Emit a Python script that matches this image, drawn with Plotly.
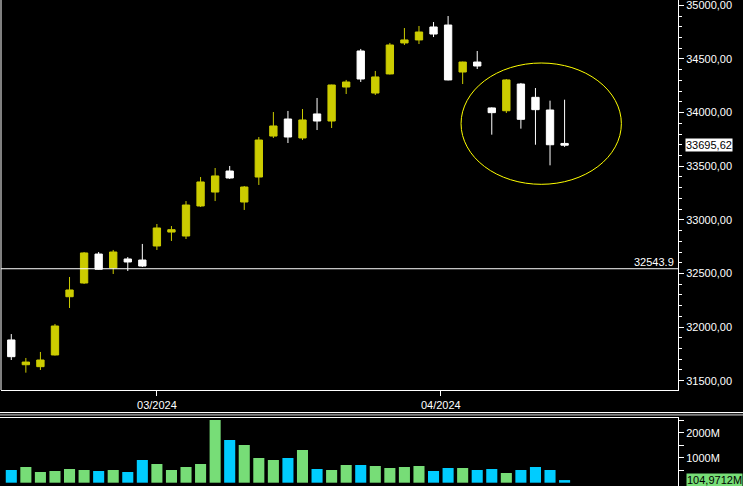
import plotly.graph_objects as go

# ---- data ----
idx = list(range(39))
opens = [31880, 31649, 31631, 31740, 32283, 32411, 32681, 32551, 32635, 32625,
         32756, 32886, 32849, 33129, 33259, 33455, 33166, 33399, 33781, 33940,
         33763, 33987, 33921, 34238, 34574, 34182, 34360, 34649, 34677, 34798,
         34816, 34378, 34471, 34043, 34017, 34266, 34142, 34024, 33712]
highs = [31935, 31712, 31768, 32029, 32467, 32700, 32700, 32719, 32653, 32775,
         32961, 32942, 33175, 33399, 33483, 33502, 33315, 33772, 34005, 34015,
         34033, 34136, 34260, 34304, 34593, 34388, 34649, 34788, 34807, 34844,
         34900, 34475, 34574, 34049, 34313, 34276, 34229, 34111, 34120]
lows = [31693, 31575, 31600, 31735, 32178, 32402, 32535, 32495, 32523, 32560,
        32719, 32803, 32821, 33120, 33175, 33381, 33092, 33325, 33763, 33716,
        33744, 33837, 33856, 34173, 34285, 34164, 34355, 34630, 34639, 34704,
        34300, 34266, 34406, 33794, 33996, 33850, 33700, 33508, 33680]
closes = [31724, 31674, 31693, 32010, 32346, 32691, 32539, 32700, 32607, 32569,
          32924, 32908, 33138, 33353, 33409, 33390, 33306, 33744, 33875, 33772,
          33931, 33921, 34257, 34285, 34313, 34332, 34630, 34677, 34751, 34732,
          34304, 34471, 34434, 33999, 34304, 33937, 34027, 33700, 33695.62]
volume_m = [508, 628, 428, 468, 548, 508, 468, 508, 428, 908,
            748, 508, 628, 748, 2508, 1708, 1508, 988, 908, 988,
            1308, 548, 508, 708, 708, 668, 588, 628, 668, 468,
            588, 588, 508, 548, 388, 508, 628, 508, 104.9712]
ref_level = 32543.9
date_tick_pos = [10, 29.5]
date_tick_text = ["03/2024", "04/2024"]
vol_tick_vals = [1000, 2000]
vol_tick_text = ["1000M", "2000M"]
ellipse_x = [30.89, 41.9]
ellipse_y = [33331, 34462]

YELLOW = "#cccc00"
WHITE = "#ffffff"
GREEN = "#77dd77"
BLUE = "#00ccff"
FONT = "Liberation Sans"

vol_colors = [GREEN if c > o else BLUE for o, c in zip(opens, closes)]

fig = go.Figure()
fig.add_trace(go.Candlestick(
    x=idx, open=opens, high=highs, low=lows, close=closes,
    increasing=dict(line=dict(color=YELLOW, width=1), fillcolor=YELLOW),
    decreasing=dict(line=dict(color=WHITE, width=1), fillcolor=WHITE),
    whiskerwidth=0, xaxis="x", yaxis="y", showlegend=False, hoverinfo="skip",
))
fig.add_trace(go.Bar(
    x=idx, y=volume_m, marker=dict(color=vol_colors, line=dict(width=0)),
    width=0.76, xaxis="x2", yaxis="y2", showlegend=False, hoverinfo="skip",
))

H = 486.0
def py(px):
    return (H - px) / H

xr = [-0.707, 45.79]
tickfont = dict(family=FONT, size=11, color="white")

fig.update_layout(
    width=743, height=486, autosize=False,
    margin=dict(l=1, r=65, t=0, b=0, pad=0, autoexpand=False),
    paper_bgcolor="black", plot_bgcolor="black",
    separators=", ",
    boxgap=0.28,
    font=dict(family=FONT, size=11, color="white"),
    xaxis=dict(
        domain=[0, 1], range=xr, anchor="y", automargin=False,
        rangeslider=dict(visible=False),
        tickmode="array", tickvals=date_tick_pos, ticktext=date_tick_text,
        ticks="outside", ticklen=5, tickcolor="white", tickwidth=1,
        showline=True, linecolor="white", linewidth=1,
        showgrid=False, zeroline=False, tickfont=tickfont,
    ),
    yaxis=dict(
        domain=[py(390), 1], range=[31413.4, 35049.4], side="right", anchor="x",
        automargin=False, ticklabeloverflow="allow",
        tick0=0, dtick=500, tickformat=".2f",
        ticks="outside", ticklen=5, tickcolor="white", tickwidth=1,
        minor=dict(dtick=100, ticks="outside", ticklen=3, tickcolor="white", showgrid=False),
        showline=True, linecolor="white", linewidth=1,
        showgrid=False, zeroline=False, tickfont=tickfont,
    ),
    xaxis2=dict(
        domain=[0, 1], range=xr, anchor="y2", matches="x", automargin=False,
        showticklabels=False, ticks="", showline=False,
        showgrid=False, zeroline=False,
    ),
    yaxis2=dict(
        domain=[0, py(417)], range=[-132, 2628], side="right", anchor="x2",
        automargin=False, ticklabeloverflow="allow",
        tickmode="array", tickvals=vol_tick_vals, ticktext=vol_tick_text,
        ticks="outside", ticklen=5, tickcolor="white", tickwidth=1,
        minor=dict(tickvals=[500, 1500, 2500], ticks="outside", ticklen=5, tickcolor="white", showgrid=False),
        showline=True, linecolor="white", linewidth=1,
        showgrid=False, zeroline=False, tickfont=tickfont,
    ),
)

shapes = [
    dict(type="line", xref="paper", yref="y", x0=0, x1=1, y0=ref_level, y1=ref_level,
         line=dict(color="white", width=1)),
    dict(type="circle", xref="x", yref="y", x0=ellipse_x[0], x1=ellipse_x[1],
         y0=ellipse_y[0], y1=ellipse_y[1], line=dict(color="#ffff00", width=1)),
    dict(type="line", xref="paper", yref="paper", x0=0, x1=0, y0=py(390), y1=1,
         line=dict(color="white", width=1)),
    dict(type="line", xref="paper", yref="paper", x0=-0.002, x1=1.1, y0=py(412.5), y1=py(412.5),
         line=dict(color="white", width=1)),
    dict(type="line", xref="paper", yref="paper", x0=-0.002, x1=1.1, y0=py(414.8), y1=py(414.8),
         line=dict(color="#808080", width=2)),
    dict(type="line", xref="paper", yref="paper", x0=-0.002, x1=1, y0=py(417.5), y1=py(417.5),
         line=dict(color="white", width=1)),
]
fig.update_layout(shapes=shapes)

last_close_txt = f"{closes[-1]:.2f}".replace(".", ",")
last_vol_txt = f"{volume_m[-1]:.4f}".replace(".", ",") + "M"

fig.update_layout(annotations=[
    dict(text=f"{ref_level}", xref="paper", yref="y", x=1, y=ref_level,
         xanchor="right", yanchor="bottom", xshift=-2, yshift=-1, showarrow=False,
         font=dict(family=FONT, size=11, color="white")),
    dict(text=last_close_txt, xref="paper", yref="y", x=1, y=closes[-1],
         xanchor="left", yanchor="middle", xshift=7, showarrow=False,
         bgcolor="white", borderpad=0,
         font=dict(family=FONT, size=11, color="black")),
    dict(text=last_vol_txt, xref="paper", yref="y2", x=1, y=volume_m[-1],
         xanchor="left", yanchor="middle", xshift=8, showarrow=False,
         bgcolor=GREEN, borderpad=0,
         font=dict(family=FONT, size=11, color="black")),
])

fig.write_html(
    "out.html",
    config={"displayModeBar": False},
    post_script="document.body.style.margin='0';document.body.style.padding='0';"
                "document.body.style.background='black';",
)
